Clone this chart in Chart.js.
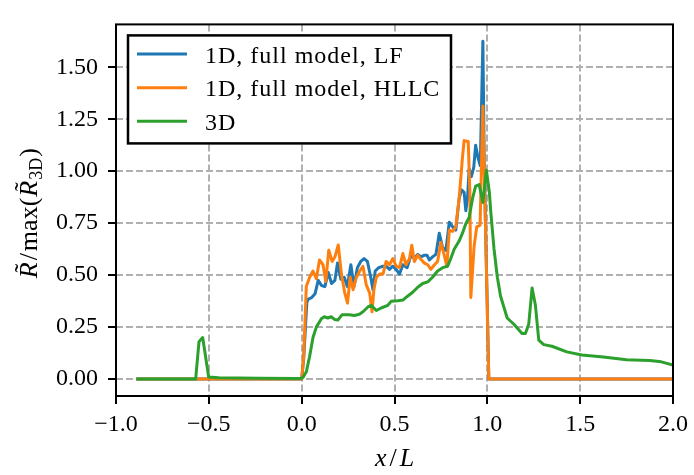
<!DOCTYPE html>
<html>
<head>
<meta charset="utf-8">
<script src="https://cdn.jsdelivr.net/npm/chart.js@4.4.1/dist/chart.umd.min.js"></script>
<style>
html,body{margin:0;padding:0;background:#fff;}
canvas{display:block;}
</style>
</head>
<body>
<canvas id="c" width="694" height="475"></canvas>
<script>
// ---- data ----
const seriesLabels = ["1D, full model, LF", "1D, full model, HLLC", "3D"];
const xTicks = [-1.0, -0.5, 0.0, 0.5, 1.0, 1.5, 2.0];
const yTicks = [0.00, 0.25, 0.50, 0.75, 1.00, 1.25, 1.50];

const xLF = [-0.891, 0.000, 0.011, 0.028, 0.036, 0.054, 0.072, 0.089, 0.107, 0.125, 0.143, 0.161, 0.179, 0.193, 0.211, 0.229, 0.246, 0.265, 0.282, 0.300, 0.318, 0.336, 0.354, 0.372, 0.384, 0.396, 0.415, 0.438, 0.455, 0.473, 0.491, 0.509, 0.527, 0.545, 0.568, 0.589, 0.607, 0.625, 0.643, 0.661, 0.675, 0.688, 0.705, 0.723, 0.741, 0.759, 0.777, 0.795, 0.813, 0.830, 0.848, 0.861, 0.875, 0.884, 0.893, 0.902, 0.914, 0.927, 0.937, 0.950, 0.962, 0.976, 0.984, 1.008, 2.000];
const yLF = [0.000, 0.000, 0.100, 0.370, 0.385, 0.392, 0.410, 0.475, 0.450, 0.445, 0.513, 0.460, 0.475, 0.558, 0.480, 0.490, 0.445, 0.550, 0.445, 0.536, 0.566, 0.580, 0.566, 0.490, 0.430, 0.520, 0.536, 0.543, 0.543, 0.528, 0.543, 0.528, 0.505, 0.550, 0.536, 0.596, 0.580, 0.600, 0.588, 0.596, 0.596, 0.573, 0.588, 0.600, 0.702, 0.633, 0.619, 0.755, 0.732, 0.717, 0.868, 0.910, 0.898, 0.810, 0.868, 1.010, 0.974, 1.019, 1.125, 1.064, 1.026, 1.625, 1.000, 0.000, 0.000];

const xHLLC = [-0.891, 0.000, 0.011, 0.025, 0.043, 0.061, 0.079, 0.096, 0.115, 0.130, 0.146, 0.164, 0.180, 0.197, 0.214, 0.232, 0.247, 0.261, 0.277, 0.295, 0.313, 0.330, 0.348, 0.366, 0.379, 0.389, 0.402, 0.420, 0.438, 0.455, 0.473, 0.491, 0.509, 0.527, 0.545, 0.562, 0.581, 0.593, 0.607, 0.625, 0.643, 0.661, 0.679, 0.696, 0.715, 0.732, 0.750, 0.768, 0.782, 0.795, 0.813, 0.830, 0.848, 0.866, 0.875, 0.897, 0.906, 0.911, 0.929, 0.943, 0.961, 0.976, 1.008, 2.000];
const yHLLC = [0.000, 0.000, 0.110, 0.445, 0.490, 0.520, 0.483, 0.573, 0.550, 0.470, 0.620, 0.566, 0.590, 0.645, 0.505, 0.415, 0.365, 0.490, 0.430, 0.490, 0.520, 0.543, 0.453, 0.415, 0.324, 0.430, 0.490, 0.505, 0.505, 0.566, 0.550, 0.580, 0.543, 0.536, 0.604, 0.550, 0.580, 0.644, 0.566, 0.596, 0.575, 0.558, 0.550, 0.528, 0.550, 0.566, 0.657, 0.596, 0.543, 0.717, 0.710, 0.732, 0.868, 1.065, 1.147, 1.143, 0.900, 0.392, 0.641, 0.732, 0.740, 1.313, 0.000, 0.000];

const x3D = [-0.891, -0.571, -0.553, -0.533, -0.501, -0.446, -0.232, -0.018, 0.000, 0.009, 0.025, 0.043, 0.061, 0.079, 0.106, 0.122, 0.141, 0.159, 0.177, 0.195, 0.218, 0.257, 0.284, 0.311, 0.330, 0.357, 0.375, 0.402, 0.428, 0.464, 0.482, 0.518, 0.545, 0.572, 0.598, 0.625, 0.652, 0.679, 0.705, 0.732, 0.759, 0.786, 0.803, 0.822, 0.848, 0.866, 0.884, 0.902, 0.920, 0.937, 0.956, 0.976, 0.995, 1.011, 1.018, 1.036, 1.054, 1.071, 1.107, 1.143, 1.187, 1.205, 1.223, 1.241, 1.259, 1.277, 1.304, 1.348, 1.428, 1.509, 1.625, 1.750, 1.875, 1.937, 2.000];
const y3D = [0.000, 0.000, 0.180, 0.200, 0.010, 0.006, 0.004, 0.003, 0.004, 0.010, 0.035, 0.110, 0.200, 0.250, 0.290, 0.300, 0.294, 0.300, 0.287, 0.284, 0.310, 0.310, 0.306, 0.312, 0.324, 0.347, 0.355, 0.330, 0.342, 0.355, 0.374, 0.377, 0.380, 0.400, 0.418, 0.442, 0.460, 0.468, 0.490, 0.520, 0.536, 0.543, 0.580, 0.626, 0.664, 0.702, 0.747, 0.777, 0.868, 0.928, 0.936, 0.850, 1.004, 0.898, 0.810, 0.626, 0.490, 0.400, 0.294, 0.264, 0.219, 0.219, 0.264, 0.438, 0.355, 0.188, 0.166, 0.158, 0.131, 0.116, 0.106, 0.093, 0.089, 0.083, 0.068];

const seriesColors = ["#1f77b4", "#ff7f0e", "#2ca02c"];

// ---- chart ----
const FONT = '"Liberation Serif", "Times New Roman", serif';
const pts = (xs, ys) => xs.map((x, i) => ({x: x, y: ys[i]}));
const fmtMinus = s => s.replace('-', '\u2212');

function spacedText(ctx, txt, x, y, sp) {
  let cx = x;
  for (const ch of txt) {
    ctx.fillText(ch, cx, y);
    cx += ctx.measureText(ch).width + sp;
  }
  return cx - x;
}

const decor = {
  id: 'decor',
  afterDatasetsDraw(chart) {
    const ctx = chart.ctx, a = chart.chartArea;
    ctx.save();
    // spines
    ctx.strokeStyle = '#000';
    ctx.lineWidth = 2;
    ctx.setLineDash([]);
    ctx.strokeRect(a.left, a.top, a.right - a.left, a.bottom - a.top);
    // legend
    const lx = a.left + 12, ly = a.top + 11, lw = 323, lh = 108;
    ctx.fillStyle = '#fff';
    ctx.fillRect(lx, ly, lw, lh);
    ctx.lineWidth = 2.5;
    ctx.strokeStyle = '#000';
    ctx.strokeRect(lx, ly, lw, lh);
    chart.data.datasets.forEach((ds, i) => {
      const y = ly + 18.7 + i * 33.6;
      ctx.strokeStyle = ds.borderColor;
      ctx.lineWidth = 3;
      ctx.beginPath();
      ctx.moveTo(lx + 9, y);
      ctx.lineTo(lx + 59, y);
      ctx.stroke();
      ctx.fillStyle = '#000';
      ctx.font = '24px ' + FONT;
      ctx.textBaseline = 'alphabetic';
      ctx.textAlign = 'left';
      spacedText(ctx, ds.label, lx + 77, y + 8.5, 1);
    });
    ctx.restore();
  },
  afterDraw(chart) {
    const ctx = chart.ctx, a = chart.chartArea;
    ctx.save();
    ctx.fillStyle = '#000';
    ctx.textBaseline = 'alphabetic';
    ctx.textAlign = 'left';
    const it = 'italic 26px ' + FONT, up = '26px ' + FONT, sub = '18px ' + FONT;
    // x label: x/L
    const xl = [['x', it, 0, 3], ['/', up, 0, 3], ['L', it, 0, 0]];
    let w = 0;
    xl.forEach(p => { ctx.font = p[1]; w += ctx.measureText(p[0]).width + p[3]; });
    let cx = (a.left + a.right) / 2 - w / 2;
    xl.forEach(p => { ctx.font = p[1]; ctx.fillText(p[0], cx, 466); cx += ctx.measureText(p[0]).width + p[3]; });
    // y label: R~/max(R~_3D)
    ctx.translate(37, (a.top + a.bottom) / 2 + 3);
    ctx.rotate(-Math.PI / 2);
    const yl = [['R', it, 0, 2, true], ['/', up, 0, 2], ['max(', up, 0, 1], ['R', it, 0, 1, true], ['3D', sub, 5, 1], [')', up, 0, 0]];
    w = 0;
    yl.forEach(p => { ctx.font = p[1]; w += ctx.measureText(p[0]).width + p[3]; });
    let px = -w / 2;
    yl.forEach(p => {
      ctx.font = p[1];
      const tw = ctx.measureText(p[0]).width;
      ctx.fillText(p[0], px, p[2]);
      if (p[4]) {
        ctx.font = up;
        const tt = ctx.measureText('\u02DC').width;
        ctx.fillText('\u02DC', px + tw / 2 - tt / 2 + 2, -5);
      }
      px += tw + p[3];
    });
    ctx.restore();
  }
};

const gridCommon = {
  color: '#b0b0b0',
  lineWidth: 2,
  drawTicks: true,
  tickLength: 8,
  tickColor: '#000',
  tickWidth: 2,
  tickBorderDash: []
};

const dsStyle = {showLine: true, pointRadius: 0, borderWidth: 3, tension: 0, fill: false, borderJoinStyle: 'round', borderCapStyle: 'butt'};

new Chart(document.getElementById('c'), {
  type: 'scatter',
  data: {
    datasets: [
      Object.assign({label: seriesLabels[0], data: pts(xLF, yLF), borderColor: seriesColors[0], backgroundColor: seriesColors[0], order: 3}, dsStyle),
      Object.assign({label: seriesLabels[1], data: pts(xHLLC, yHLLC), borderColor: seriesColors[1], backgroundColor: seriesColors[1], order: 2}, dsStyle),
      Object.assign({label: seriesLabels[2], data: pts(x3D, y3D), borderColor: seriesColors[2], backgroundColor: seriesColors[2], order: 1}, dsStyle)
    ]
  },
  options: {
    responsive: false,
    devicePixelRatio: 1,
    animation: false,
    layout: {padding: {top: 2, right: 16, bottom: 0, left: 0}},
    plugins: {legend: {display: false}, tooltip: {enabled: false}},
    scales: {
      x: {
        type: 'linear', min: -1, max: 2,
        afterBuildTicks: s => { s.ticks = xTicks.map(v => ({value: v})); },
        afterFit: s => { s.height = 79; },
        ticks: {
          autoSkip: false, maxRotation: 0, padding: 6, color: '#000',
          font: {family: FONT, size: 24},
          callback: v => fmtMinus(Number(v).toFixed(1))
        },
        grid: gridCommon,
        border: {display: false, dash: [7, 3]}
      },
      y: {
        type: 'linear', min: -0.0812, max: 1.706,
        afterBuildTicks: s => { s.ticks = yTicks.map(v => ({value: v})); },
        afterFit: s => { s.width = 116; },
        ticks: {
          autoSkip: false, padding: 10, color: '#000',
          font: {family: FONT, size: 24},
          callback: v => fmtMinus(Number(v).toFixed(2))
        },
        grid: gridCommon,
        border: {display: false, dash: [7, 3]}
      }
    }
  },
  plugins: [decor]
});
</script>
</body>
</html>
